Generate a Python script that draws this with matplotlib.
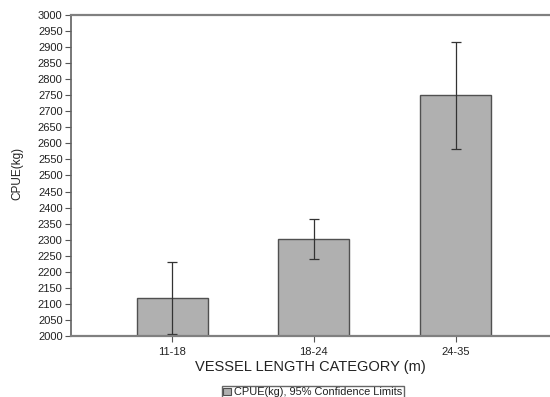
import matplotlib
matplotlib.use("Agg")
import matplotlib.pyplot as plt
from matplotlib.patches import Patch
import numpy as np

categories = ["11-18", "18-24", "24-35"]
cpue = [2117, 2302, 2751]
ci_lower = [2005, 2241, 2582]
ci_upper = [2230, 2364, 2917]
y_ticks = list(range(2000, 3001, 50))

plt.rcParams["font.family"] = ["Liberation Sans", "DejaVu Sans"]

fig = plt.figure(figsize=(5.5, 3.97), dpi=100)
ax = fig.add_axes([0.129, 0.154, 0.871, 0.808])

x = np.arange(len(categories))
err = [np.array(cpue) - np.array(ci_lower), np.array(ci_upper) - np.array(cpue)]
ax.bar(x, cpue, width=0.5, bottom=0, color="#b0b0b0", edgecolor="#505050", linewidth=1.0)
ax.errorbar(x, cpue, yerr=err, fmt="none", ecolor="#333333", elinewidth=0.9,
            capsize=3.5, capthick=0.9)

ax.set_xlim(-0.715, 2.667)
ax.set_ylim(2000, 3000)
ax.set_yticks(y_ticks)
ax.set_xticks(x)
ax.set_xticklabels(categories)
ax.tick_params(axis="both", labelsize=8, length=4, width=0.8, color="#555555",
               direction="out", pad=2, labelcolor="#222222")
ax.tick_params(axis="x", pad=4)

for side in ["top", "bottom"]:
    ax.spines[side].set_color("#808080")
    ax.spines[side].set_linewidth(1.6)
ax.spines["left"].set_color("#606060")
ax.spines["left"].set_linewidth(1.2)
ax.spines["right"].set_visible(False)

ax.set_ylabel("CPUE(kg)", fontsize=8.5, color="#222222")
ax.yaxis.set_label_coords(-0.111, 0.507)
ax.yaxis.label.set_va("center")
ax.set_xlabel("VESSEL LENGTH CATEGORY (m)", fontsize=10.5, color="#222222")
ax.xaxis.set_label_coords(0.5, -0.098)
ax.xaxis.label.set_va("center")

handle = Patch(facecolor="#b0b0b0", edgecolor="#505050", linewidth=0.8)
fig.legend([handle], ["CPUE(kg), 95% Confidence Limits"], loc="lower center",
           bbox_to_anchor=(0.569, -0.005), fontsize=7.9, frameon=True, fancybox=False,
           edgecolor="#404040", handlelength=0.7, handleheight=0.7, handletextpad=0.3,
           borderpad=0.15, borderaxespad=0.0, labelcolor="#222222")

fig.savefig("out.png", dpi=100)
